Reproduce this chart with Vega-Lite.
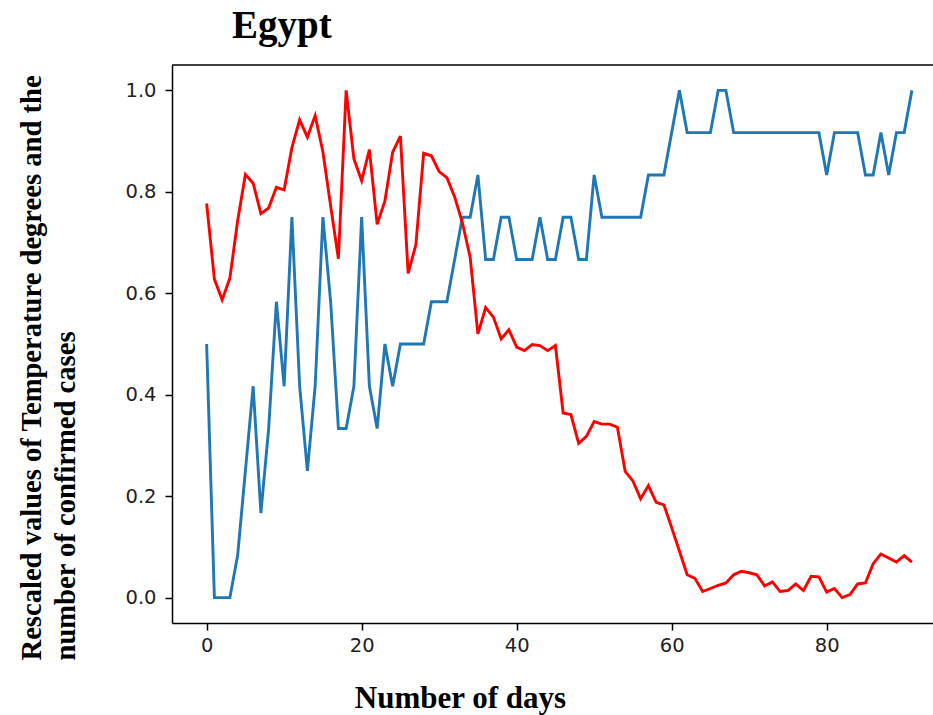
{
  "$schema": "https://vega.github.io/schema/vega-lite/v6.json",
  "autosize": {"type": "none"},
  "padding": {"left": 172, "top": 65, "right": 0, "bottom": 92},
  "width": 761,
  "height": 558,
  "background": "white",
  "title": {
    "text": "Egypt",
    "font": "Liberation Serif",
    "fontWeight": "bold",
    "fontSize": 39,
    "color": "black",
    "anchor": "start",
    "dx": 215,
    "baseline": "alphabetic",
    "offset": -13
  },
  "config": {
    "view": {"stroke": null},
    "axis": {
      "grid": false,
      "domainColor": "black",
      "domainWidth": 1.5,
      "tickColor": "black",
      "tickWidth": 1.5,
      "tickSize": 7,
      "labelFont": "DejaVu Sans",
      "labelFontSize": 19.5,
      "labelColor": "#222",
      "titleFont": "Liberation Serif",
      "titleFontWeight": "bold",
      "titleColor": "black"
    }
  },
  "data": {
    "values": [
      {"d": 0, "temp": 0.777, "cases": 0.5},
      {"d": 1, "temp": 0.628, "cases": 0},
      {"d": 2, "temp": 0.587, "cases": 0},
      {"d": 3, "temp": 0.63, "cases": 0},
      {"d": 4, "temp": 0.743, "cases": 0.0833},
      {"d": 5, "temp": 0.834, "cases": 0.25},
      {"d": 6, "temp": 0.817, "cases": 0.4167},
      {"d": 7, "temp": 0.757, "cases": 0.1667},
      {"d": 8, "temp": 0.768, "cases": 0.3333},
      {"d": 9, "temp": 0.809, "cases": 0.5833},
      {"d": 10, "temp": 0.804, "cases": 0.4167},
      {"d": 11, "temp": 0.887, "cases": 0.75},
      {"d": 12, "temp": 0.942, "cases": 0.4167},
      {"d": 13, "temp": 0.908, "cases": 0.25},
      {"d": 14, "temp": 0.95, "cases": 0.4167},
      {"d": 15, "temp": 0.879, "cases": 0.75},
      {"d": 16, "temp": 0.772, "cases": 0.5833},
      {"d": 17, "temp": 0.668, "cases": 0.3333},
      {"d": 18, "temp": 1.0, "cases": 0.3333},
      {"d": 19, "temp": 0.865, "cases": 0.4167},
      {"d": 20, "temp": 0.822, "cases": 0.75},
      {"d": 21, "temp": 0.883, "cases": 0.4167},
      {"d": 22, "temp": 0.736, "cases": 0.3333},
      {"d": 23, "temp": 0.782, "cases": 0.5},
      {"d": 24, "temp": 0.878, "cases": 0.4167},
      {"d": 25, "temp": 0.91, "cases": 0.5},
      {"d": 26, "temp": 0.639, "cases": 0.5},
      {"d": 27, "temp": 0.696, "cases": 0.5},
      {"d": 28, "temp": 0.876, "cases": 0.5},
      {"d": 29, "temp": 0.871, "cases": 0.5833},
      {"d": 30, "temp": 0.84, "cases": 0.5833},
      {"d": 31, "temp": 0.828, "cases": 0.5833},
      {"d": 32, "temp": 0.79, "cases": 0.6667},
      {"d": 33, "temp": 0.739, "cases": 0.75},
      {"d": 34, "temp": 0.671, "cases": 0.75},
      {"d": 35, "temp": 0.52, "cases": 0.8333},
      {"d": 36, "temp": 0.572, "cases": 0.6667},
      {"d": 37, "temp": 0.553, "cases": 0.6667},
      {"d": 38, "temp": 0.51, "cases": 0.75},
      {"d": 39, "temp": 0.528, "cases": 0.75},
      {"d": 40, "temp": 0.494, "cases": 0.6667},
      {"d": 41, "temp": 0.487, "cases": 0.6667},
      {"d": 42, "temp": 0.499, "cases": 0.6667},
      {"d": 43, "temp": 0.497, "cases": 0.75},
      {"d": 44, "temp": 0.487, "cases": 0.6667},
      {"d": 45, "temp": 0.497, "cases": 0.6667},
      {"d": 46, "temp": 0.364, "cases": 0.75},
      {"d": 47, "temp": 0.361, "cases": 0.75},
      {"d": 48, "temp": 0.304, "cases": 0.6667},
      {"d": 49, "temp": 0.318, "cases": 0.6667},
      {"d": 50, "temp": 0.347, "cases": 0.8333},
      {"d": 51, "temp": 0.342, "cases": 0.75},
      {"d": 52, "temp": 0.342, "cases": 0.75},
      {"d": 53, "temp": 0.336, "cases": 0.75},
      {"d": 54, "temp": 0.249, "cases": 0.75},
      {"d": 55, "temp": 0.23, "cases": 0.75},
      {"d": 56, "temp": 0.195, "cases": 0.75},
      {"d": 57, "temp": 0.221, "cases": 0.8333},
      {"d": 58, "temp": 0.188, "cases": 0.8333},
      {"d": 59, "temp": 0.183, "cases": 0.8333},
      {"d": 60, "temp": 0.138, "cases": 0.9167},
      {"d": 61, "temp": 0.092, "cases": 1.0},
      {"d": 62, "temp": 0.045, "cases": 0.9167},
      {"d": 63, "temp": 0.038, "cases": 0.9167},
      {"d": 64, "temp": 0.012, "cases": 0.9167},
      {"d": 65, "temp": 0.018, "cases": 0.9167},
      {"d": 66, "temp": 0.024, "cases": 1.0},
      {"d": 67, "temp": 0.029, "cases": 1.0},
      {"d": 68, "temp": 0.045, "cases": 0.9167},
      {"d": 69, "temp": 0.052, "cases": 0.9167},
      {"d": 70, "temp": 0.049, "cases": 0.9167},
      {"d": 71, "temp": 0.045, "cases": 0.9167},
      {"d": 72, "temp": 0.023, "cases": 0.9167},
      {"d": 73, "temp": 0.031, "cases": 0.9167},
      {"d": 74, "temp": 0.012, "cases": 0.9167},
      {"d": 75, "temp": 0.014, "cases": 0.9167},
      {"d": 76, "temp": 0.027, "cases": 0.9167},
      {"d": 77, "temp": 0.014, "cases": 0.9167},
      {"d": 78, "temp": 0.042, "cases": 0.9167},
      {"d": 79, "temp": 0.041, "cases": 0.9167},
      {"d": 80, "temp": 0.011, "cases": 0.8333},
      {"d": 81, "temp": 0.018, "cases": 0.9167},
      {"d": 82, "temp": 0.0, "cases": 0.9167},
      {"d": 83, "temp": 0.006, "cases": 0.9167},
      {"d": 84, "temp": 0.027, "cases": 0.9167},
      {"d": 85, "temp": 0.029, "cases": 0.8333},
      {"d": 86, "temp": 0.067, "cases": 0.8333},
      {"d": 87, "temp": 0.086, "cases": 0.9167},
      {"d": 88, "temp": 0.078, "cases": 0.8333},
      {"d": 89, "temp": 0.07, "cases": 0.9167},
      {"d": 90, "temp": 0.083, "cases": 0.9167},
      {"d": 91, "temp": 0.07, "cases": 1.0}
    ]
  },
  "layer": [
    {
      "transform": [{"fold": ["cases", "temp"], "as": ["series", "value"]}],
      "mark": {"type": "line", "strokeWidth": 2.9},
      "encoding": {
        "x": {
          "field": "d",
          "type": "quantitative",
          "scale": {"domain": [-4.47, 93.72], "nice": false, "zero": false},
          "axis": {
            "values": [0, 20, 40, 60, 80],
            "labelPadding": 6,
            "title": "Number of days",
            "titleFontSize": 31,
            "titleX": 288,
            "titleY": 84,
            "titleAlign": "center",
            "titleAnchor": "start",
            "titleBaseline": "alphabetic"
          }
        },
        "y": {
          "field": "value",
          "type": "quantitative",
          "scale": {"domain": [-0.05, 1.05], "nice": false, "zero": false},
          "axis": {
            "values": [0, 0.2, 0.4, 0.6, 0.8, 1.0],
            "format": ".1f",
            "labelPadding": 9,
            "title": ["Rescaled values of Temperature degrees and the", "number of confirmed cases"],
            "titleFontSize": 28.6,
            "titleAngle": -90,
            "titleAlign": "left",
            "titleAnchor": "start",
            "titleBaseline": "top",
            "titleLineHeight": 34,
            "titleX": -155,
            "titleY": 595
          }
        },
        "color": {
          "field": "series",
          "type": "nominal",
          "scale": {"domain": ["cases", "temp"], "range": ["#1f77b4", "#ff0000"]},
          "legend": null
        }
      }
    },
    {
      "data": {"values": [{"edge": "top"}]},
      "mark": {"type": "rule", "color": "black", "strokeWidth": 1.5},
      "encoding": {"y": {"datum": 1.05}}
    }
  ]
}
